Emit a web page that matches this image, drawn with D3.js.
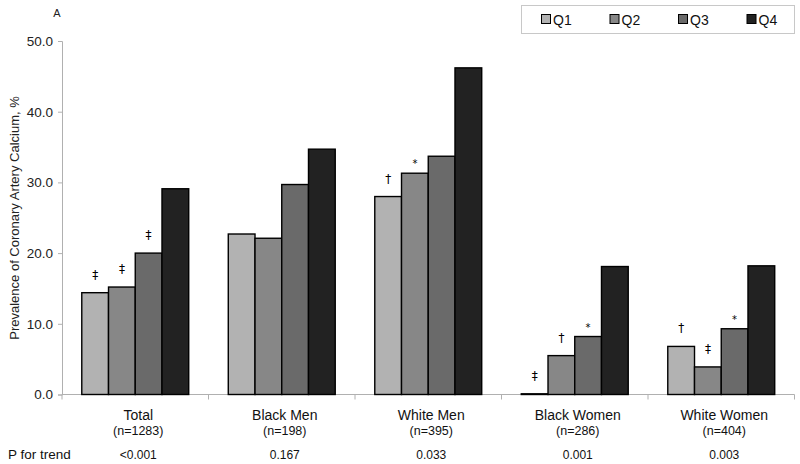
<!DOCTYPE html>
<html><head><meta charset="utf-8">
<script src="https://cdn.jsdelivr.net/npm/d3@7/dist/d3.min.js"></script>
<style>body{margin:0;background:#fff}svg{display:block;font-family:"Liberation Sans",Arial,sans-serif}</style>
</head><body><svg id="c" width="800" height="464"></svg>
<script>
const categories = ["Total","Black Men","White Men","Black Women","White Women"];
const sampleSizes = ["(n=1283)","(n=198)","(n=395)","(n=286)","(n=404)"];
const pTrend = ["<0.001","0.167","0.033","0.001","0.003"];
const series = ["Q1","Q2","Q3","Q4"];
const q1 = [14.4, 22.7, 28.0, 0.1, 6.8];
const q2 = [15.2, 22.1, 31.3, 5.5, 3.9];
const q3 = [20.0, 29.7, 33.7, 8.2, 9.3];
const q4 = [29.1, 34.7, 46.2, 18.1, 18.2];
const m1 = ["‡","","†","‡","†"];
const m2 = ["‡","","*","†","‡"];
const m3 = ["‡","","","*","*"];
const m4 = ["","","","",""];
const yTicks = [0,10,20,30,40,50];
const colors = ["#b2b2b2","#878787","#6a6a6a","#222222"];

const values = [q1,q2,q3,q4];
const marks = [m1,m2,m3,m4];
const svg = d3.select("#c");
const x0 = d3.scaleBand().domain(categories).range([62,794.5]).paddingInner(0.27).paddingOuter(0.135);
const x1 = d3.scaleBand().domain(series).range([0,x0.bandwidth()]);
const y = d3.scaleLinear().domain([0,50]).range([394.5,41]);

// y axis
const ya = svg.append("g").attr("transform","translate(62,0)")
  .call(d3.axisLeft(y).tickValues(yTicks).tickFormat(d3.format(".1f")).tickSize(4).tickPadding(5));
ya.selectAll("path,line").attr("stroke","#b0b0b0");
ya.selectAll("text").attr("font-size",13.5).attr("fill","#222").attr("font-family","Liberation Sans, Arial");

// x axis
const bounds = categories.map(c=>x0(c)-x0.step()*x0.paddingInner()/2);
bounds.push(794.5);
svg.append("line").attr("x1",62).attr("x2",794.5).attr("y1",394.5).attr("y2",394.5).attr("stroke","#b0b0b0");
svg.selectAll(".xt").data(bounds).join("line").attr("x1",d=>d).attr("x2",d=>d).attr("y1",394.5).attr("y2",399.5).attr("stroke","#b0b0b0");

// bars
const rows = [];
categories.forEach((c,i)=>series.forEach((s,j)=>rows.push({c,s,v:values[j][i],m:marks[j][i],j})));
svg.selectAll(".bar").data(rows).join("rect")
  .attr("x",d=>x0(d.c)+x1(d.s)).attr("width",x1.bandwidth())
  .attr("y",d=>y(d.v)).attr("height",d=>y(0)-y(d.v))
  .attr("fill",d=>colors[d.j]).attr("stroke","#000").attr("stroke-width",1.4);
svg.selectAll(".mk").data(rows.filter(d=>d.m)).join("text")
  .attr("x",d=>x0(d.c)+x1(d.s)+x1.bandwidth()/2)
  .attr("y",d=>y(d.v)-(d.m==="*"?6:14))
  .attr("text-anchor","middle").attr("font-family","DejaVu Sans, sans-serif")
  .attr("font-size",d=>d.m==="*"?10:12).attr("fill","#000")
  .text(d=>d.m);

// category labels
const cx = c=>x0(c)+x0.bandwidth()/2+3;
svg.selectAll(".cl").data(categories).join("text").attr("x",cx).attr("y",420)
  .attr("text-anchor","middle").attr("font-size",14).attr("fill","#111").text(d=>d);
svg.selectAll(".nl").data(sampleSizes).join("text").attr("x",(d,i)=>cx(categories[i])).attr("y",435)
  .attr("text-anchor","middle").attr("font-size",12.5).attr("fill","#111").text(d=>d);
svg.append("text").attr("x",8).attr("y",459).attr("font-size",13.5).attr("fill","#111").text("P for trend");
svg.selectAll(".pl").data(pTrend).join("text").attr("x",(d,i)=>cx(categories[i])).attr("y",459)
  .attr("text-anchor","middle").attr("font-size",12).attr("fill","#111").text(d=>d);

// y title and panel letter
svg.append("text").attr("transform","translate(19,218) rotate(-90)").attr("text-anchor","middle")
  .attr("font-size",13).attr("fill","#222").text("Prevalence of Coronary Artery Calcium, %");
svg.append("text").attr("x",57).attr("y",17).attr("text-anchor","middle").attr("font-size",11).attr("fill","#222").text("A");

// legend
svg.append("rect").attr("x",521.5).attr("y",5.5).attr("width",273).attr("height",28).attr("fill","#fff").attr("stroke","#c8c8c8");
const lg = svg.selectAll(".lg").data(series).join("g").attr("transform",(d,i)=>`translate(${541+i*68.5},14)`);
lg.append("rect").attr("x",0.5).attr("y",0.5).attr("width",9).attr("height",9).attr("fill",(d,i)=>colors[i]).attr("stroke","#000").attr("stroke-width",1);
lg.append("text").attr("x",12).attr("y",10.5).attr("font-size",14).attr("fill","#111").text(d=>d);
</script></body></html>
